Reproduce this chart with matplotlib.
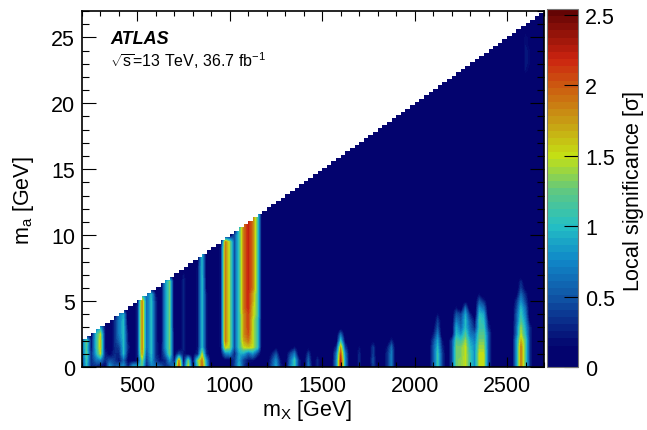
import numpy as np
import matplotlib
matplotlib.use('Agg')
import matplotlib.pyplot as plt
from matplotlib import colors
from matplotlib.ticker import MultipleLocator

plt.rcParams['font.family'] = ['Liberation Sans', 'DejaVu Sans']
plt.rcParams['mathtext.fontset'] = 'custom'
plt.rcParams['mathtext.rm'] = 'Liberation Sans'
plt.rcParams['mathtext.it'] = 'Liberation Sans:italic'

# significance columns: entries run up in m_a from 0 in steps of 0.5 GeV
mx_step = 25
ma_step = 0.5
vmax = 2.54

low_mx = [200, 225, 250, 275, 300, 325, 350, 375, 400, 425, 450, 475, 500, 525, 550, 575, 600, 625, 650, 675, 700]
low_sig = [
    [.5, .4, .5, .6, .5],
    [1.0, 1.1, 1.2, 1.2, 1.3],
    [.3, .3, .3, .2, .2, .1],
    [.3, .6, .9, 1.0, 1.0, 1.0, .6],
    [.2, .7, 1.5, 1.6, 1.6, 1.5, .9],
    [.1, .3, .3, .2, .2, .2, .2],
    [.9, .5, .1],
    [.5, .4, .3, .3, .3, .3, .3, .3],
    [.7, .2, .3, .4, .6, .7, .7, .7, .7],
    [.8, .6, 1.0, 1.0, 1.0, 1.0, 1.0, 1.0, .9],
    [.3, .1, .2, .3, .2, .2, .1],
    [1.0, .1],
    [1.0, .2, .3, .3, .3, .3, .3, .3, .3, .3, .2],
    [1.2, 1.4, 1.8, 1.9, 1.9, 1.9, 1.9, 1.9, 1.9, 1.9, 1.9, .8],
    [.3, .4, .5, .6, .6, .6, .6, .6, .6, .6, .6, .6],
    [.7, .9, 1.0, 1.0, 1.0, 1.0, 1.0, 1.0, 1.0, 1.0, 1.0, 1.0],
    [.7, .4, .3, .3, .3, .3, .3, .3, .3, .3, .3, .2],
    [.6, .2, .1, .1],
    [.3, .3, .6, .8, .8, .8, .8, .8, .8, .8, .8, .8, .8, .8],
    [.4, .8, 1.3, 1.3, 1.3, 1.3, 1.3, 1.3, 1.3, 1.3, 1.3, 1.3, 1.3, 1.3],
    [.8, .3, .1, .1, .1, .1],
]

mid_mx = [725, 750, 775, 800, 825, 850, 875, 950, 975, 1000, 1025, 1050, 1075, 1100, 1125, 1150]
mid_sig = [
    [2.1, 1.9, .5],
    [.4, .2, .2, .3, .3, .3, .3, .3, .3, .3, .3, .3, .3, .3, .2],
    [1.6, 1.3, .1],
    [.2, .1, .1],
    [1.1, 1.3, .3, .2, .2, .2, .2, .2, .2, .2, .2, .2, .2, .2, .2, .2, .1],
    [2.0, 1.9, 1.5] + [1.0] * 15,
    [.9, .8, .3, .2, .2, .2, .2, .2, .2, .2, .2, .2, .1, .1],
    [0, 0, .1] + [.2] * 16,
    [.1, .1, .7, 1.6] + [1.9] * 16,
    [.1, .1, .8] + [1.4] * 17,
    [.4, .4, .3] + [.5] * 18,
    [1.0, .9, .9, 1.1] + [1.1] * 18,
    [.4, .4, .9, 1.5, 1.7, 1.8, 1.8, 1.8, 1.8] + [1.9] * 14,
    [.1, .2, .6, 1.6, 1.9, 2.05, 2.1, 2.1, 2.1] + [2.2] * 15,
    [0, .2, .8, 1.5, 1.5, 1.5, 1.5, 1.5, 1.6, 1.6, 1.7, 1.7] + [1.9] * 12,
    [0, 0, .4, 1.1, 1.1, 1.1, 1.1, 1.1] + [1.2] * 16,
]

high_mx = [1225, 1250, 1275, 1325, 1350, 1375, 1425, 1450, 1475, 1575, 1600, 1625,
           1700, 1775, 1800, 1850, 1875, 2100, 2125, 2150]
high_sig = [
    [.5, .4, .2],
    [.9, .8, .5, .1],
    [.3, .2],
    [.7, .6, .4],
    [1.1, 1.1, .7, .2],
    [.3, .3],
    [.7, .6, .4, .1],
    [.1],
    [.3, .3, .1],
    [.7, .7, .6, .3],
    [2.3, 2.3, 2.1, 1.8, 1.1, .6],
    [.8, .8, .7, .4, .1],
    [.3, .3, .3, .2],
    [.4, .5, .4, .4, .1],
    [.1],
    [.3, .3, .3, .2],
    [.7, .7, .7, .6, .3],
    [.5, .5, .5, .5, .4, .2, .1],
    [1.1, 1.1, 1.1, 1.0, .9, .7, .5, .4, .2],
    [.4, .4, .4, .3, .2],
]

top_mx = [2200, 2225, 2250, 2275, 2300, 2325, 2350, 2375, 2400, 2550, 2575, 2600, 2625]
top_sig = [
    [.4, .4, .4, .4, .4],
    [1.3, 1.3, 1.3, 1.3, 1.2, 1.0, .9, .7, .5, .2],
    [1.35, 1.35, 1.3, 1.3, 1.1, .8, .6, .5, .4],
    [1.5, 1.5, 1.5, 1.5, 1.4, 1.2, 1.0, 1.0, .9, .6, .1],
    [1.1, 1.1, 1.1, 1.0, .9, .7, .6, .5, .3],
    [.8, .8, .8, .8, .7, .6, .3, .2],
    [1.5, 1.5, 1.5, 1.4, 1.3, 1.2, 1.1, 1.1, 1.0, .8, .5, .2],
    [1.5, 1.5, 1.5, 1.4, 1.3, 1.2, 1.1, 1.0, .9, .6, .3],
    [.5, .5, .5, .5, .5, .5, .3, .2],
    [.8, .8, .8, .8, .8, .6, .6, .5, .5, .4, .3, .1],
    [1.9, 1.9, 1.9, 1.9, 1.7, 1.5, 1.4, 1.2, 1.1, 1.0, .8, .6, .4, .3],
    [1.2, 1.2, 1.2, 1.2, 1.2, 1.0, .9, .8, .7, .6, .4, .3, .1] + [0] * 31 + [.1, .2, .25, .25, .25, .2, .2, .1],
    [.3, .3, .3, .3, .3, .3, .3, .1] + [0] * 36 + [.05, .1, .15, .15, .15, .1, .1, .05],
]

# upper edge of the filled region, one value per 25 GeV column from 200 GeV
ma_top = [
    2.1, 2.35, 2.6, 2.85, 3.1, 3.35, 3.6, 3.85, 4.1, 4.35,
    4.6, 4.85, 5.1, 5.35, 5.6, 5.85, 6.1, 6.35, 6.6, 6.85,
    7.1, 7.35, 7.6, 7.85, 8.1, 8.35, 8.6, 8.85, 9.1, 9.35,
    9.6, 9.85, 10.1, 10.35, 10.6, 10.85, 11.1, 11.35, 11.6, 11.85,
    12.1, 12.35, 12.6, 12.85, 13.1, 13.35, 13.6, 13.85, 14.1, 14.35,
    14.6, 14.85, 15.1, 15.35, 15.6, 15.85, 16.1, 16.35, 16.6, 16.85,
    17.1, 17.35, 17.6, 17.85, 18.1, 18.35, 18.6, 18.85, 19.1, 19.35,
    19.6, 19.85, 20.1, 20.35, 20.6, 20.85, 21.1, 21.35, 21.6, 21.85,
    22.1, 22.35, 22.6, 22.85, 23.1, 23.35, 23.6, 23.85, 24.1, 24.35,
    24.6, 24.85, 25.1, 25.35, 25.6, 25.85, 26.1, 26.35, 26.6, 26.85,
]

# palette
cbar_values = [0, 0.12, 0.5, 0.75, 1.0, 1.25, 1.5, 1.75, 2.0, 2.2, 2.54]
cbar_colors = ['#03036e', '#03036e', '#1058a8', '#1088c8', '#24c0c4', '#60c880',
               '#c4e014', '#c89c14', '#cc5c10', '#cc2410', '#640404']

mx_edges = np.arange(200, 2700 + mx_step, mx_step)
grid = np.zeros((55, 101))
for mxs, sigs in [(low_mx, low_sig), (mid_mx, mid_sig), (high_mx, high_sig), (top_mx, top_sig)]:
    for mx, sig in zip(mxs, sigs):
        grid[:len(sig), (mx - 200) // mx_step] = sig

cmap = colors.LinearSegmentedColormap.from_list(
    'local_sig', [(v / vmax, c) for v, c in zip(cbar_values, cbar_colors)], N=50)

fig = plt.figure(figsize=(6.47, 4.31), dpi=100)
W, H = 647.0, 431.0
ax = fig.add_axes([82 / W, 1 - 368 / H, 462 / W, 356 / H])

im = ax.imshow(grid, origin='lower', aspect='auto', cmap=cmap, vmin=0, vmax=vmax,
               interpolation='bilinear',
               extent=(200 - mx_step / 2, 2700 + mx_step / 2, -ma_step / 2, 27 + ma_step / 2))
# blank out everything above the kinematic edge
ax.fill_between(mx_edges, ma_top + [ma_top[-1]], 27.5, step='post', color='white', lw=0, zorder=1.5)

ax.set_xlim(200, 2700)
ax.set_ylim(0, 27)
ax.set_axisbelow(False)
ax.xaxis.set_major_locator(MultipleLocator(500))
ax.xaxis.set_minor_locator(MultipleLocator(100))
ax.yaxis.set_major_locator(MultipleLocator(5))
ax.yaxis.set_minor_locator(MultipleLocator(1))
ax.tick_params(axis='x', which='major', direction='in', top=True, length=7.5, width=0.8, labelsize=15.5, pad=6)
ax.tick_params(axis='x', which='minor', direction='in', top=True, length=3.6, width=0.8)
ax.tick_params(axis='y', which='major', direction='in', right=True, length=10, width=0.8, labelsize=15.5, pad=5)
ax.tick_params(axis='y', which='minor', direction='in', right=True, length=5, width=0.8)
for side in ax.spines:
    ax.spines[side].set_linewidth(1.2)
    ax.spines[side].set_zorder(5)

ax.set_xlabel(r'm$_{\mathregular{X}}$ [GeV]', fontsize=15.5)
ax.xaxis.set_label_coords(0.487, -0.085)
ax.set_ylabel(r'm$_{\mathregular{a}}$ [GeV]', fontsize=15.5)
ax.yaxis.set_label_coords(-0.1, 0.47)

fig.text(110 / W, 1 - 39 / H, 'ATLAS', fontsize=13, fontweight='bold', fontstyle='italic', va='center')
fig.text(110 / W, 1 - 61 / H, r'$\mathregular{\sqrt{s}}$=13 TeV, 36.7 fb$^{\mathregular{-1}}$',
         fontsize=11.5, va='center')

cax = fig.add_axes([547 / W, 1 - 368 / H, 31 / W, 358 / H])
cbar = fig.colorbar(im, cax=cax, ticks=[0, 0.5, 1, 1.5, 2, 2.5])
cbar.ax.set_yticklabels(['0', '0.5', '1', '1.5', '2', '2.5'])
cbar.ax.tick_params(direction='in', length=10, width=0.8, labelsize=15.5, pad=5)
cbar.outline.set_edgecolor('#777777')
cbar.outline.set_linewidth(0.8)
fig.text(633 / W, 1 - 191 / H, r'Local significance [$\mathregular{\sigma}$]', rotation=90,
         fontsize=15.5, ha='center', va='center')

fig.savefig('out.png', dpi=100)
